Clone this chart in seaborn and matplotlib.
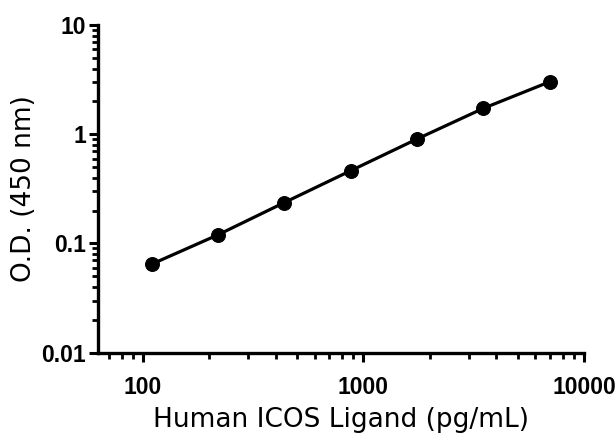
import matplotlib
matplotlib.use("Agg")
import matplotlib.pyplot as plt
import matplotlib.ticker as mticker
import pandas as pd
import seaborn as sns

# standard curve, 2-fold dilutions
conc = [109.375, 218.75, 437.5, 875, 1750, 3500, 7000]
od = [0.0646, 0.120, 0.237, 0.464, 0.906, 1.73, 3.03]

df = pd.DataFrame({"conc": conc, "od": od})

sns.set_style("ticks")
plt.rcParams['font.family'] = ['Liberation Sans Narrow', 'Liberation Sans', 'DejaVu Sans']
plt.rcParams['font.weight'] = 'bold'

fig = plt.figure(figsize=(6.16, 4.33), dpi=100)
ax = fig.add_axes([0.159, 0.1855, 0.789, 0.7565])

sns.lineplot(data=df, x="conc", y="od", ax=ax, color="black", linewidth=2.3,
             marker="o", markersize=10, markeredgecolor="black")

ax.set_xscale("log")
ax.set_yscale("log")
ax.set_xlim(62.5, 10000)
ax.set_ylim(0.01, 10)

ax.xaxis.set_major_locator(mticker.FixedLocator([100, 1000, 10000]))
ax.xaxis.set_major_formatter(mticker.FixedFormatter(["100", "1000", "10000"]))
ax.xaxis.set_minor_locator(mticker.LogLocator(base=10, subs=range(2, 10), numticks=20))
ax.xaxis.set_minor_formatter(mticker.NullFormatter())
ax.yaxis.set_major_locator(mticker.FixedLocator([0.01, 0.1, 1, 10]))
ax.yaxis.set_major_formatter(mticker.FixedFormatter(["0.01", "0.1", "1", "10"]))
ax.yaxis.set_minor_locator(mticker.LogLocator(base=10, subs=range(2, 10), numticks=20))
ax.yaxis.set_minor_formatter(mticker.NullFormatter())

for s in ["top", "right"]:
    ax.spines[s].set_visible(False)
for s in ["left", "bottom"]:
    ax.spines[s].set_linewidth(2.4)
    ax.spines[s].set_color("black")

ax.tick_params(which="major", length=6.5, width=2.2, direction="out", labelsize=16.5,
               labelcolor="black", color="black")
ax.tick_params(which="minor", length=4.3, width=2, direction="out", color="black")
ax.tick_params(axis="x", pad=10)
ax.tick_params(axis="y", pad=2)

ax.set_xlabel("Human ICOS Ligand (pg/mL)", fontsize=19, fontweight="normal",
              family=["DejaVu Sans"], labelpad=6, color="black")
ax.set_ylabel("O.D. (450 nm)", fontsize=19, fontweight="normal",
              family=["DejaVu Sans"], labelpad=3, color="black")

fig.savefig("out.png", dpi=100)
